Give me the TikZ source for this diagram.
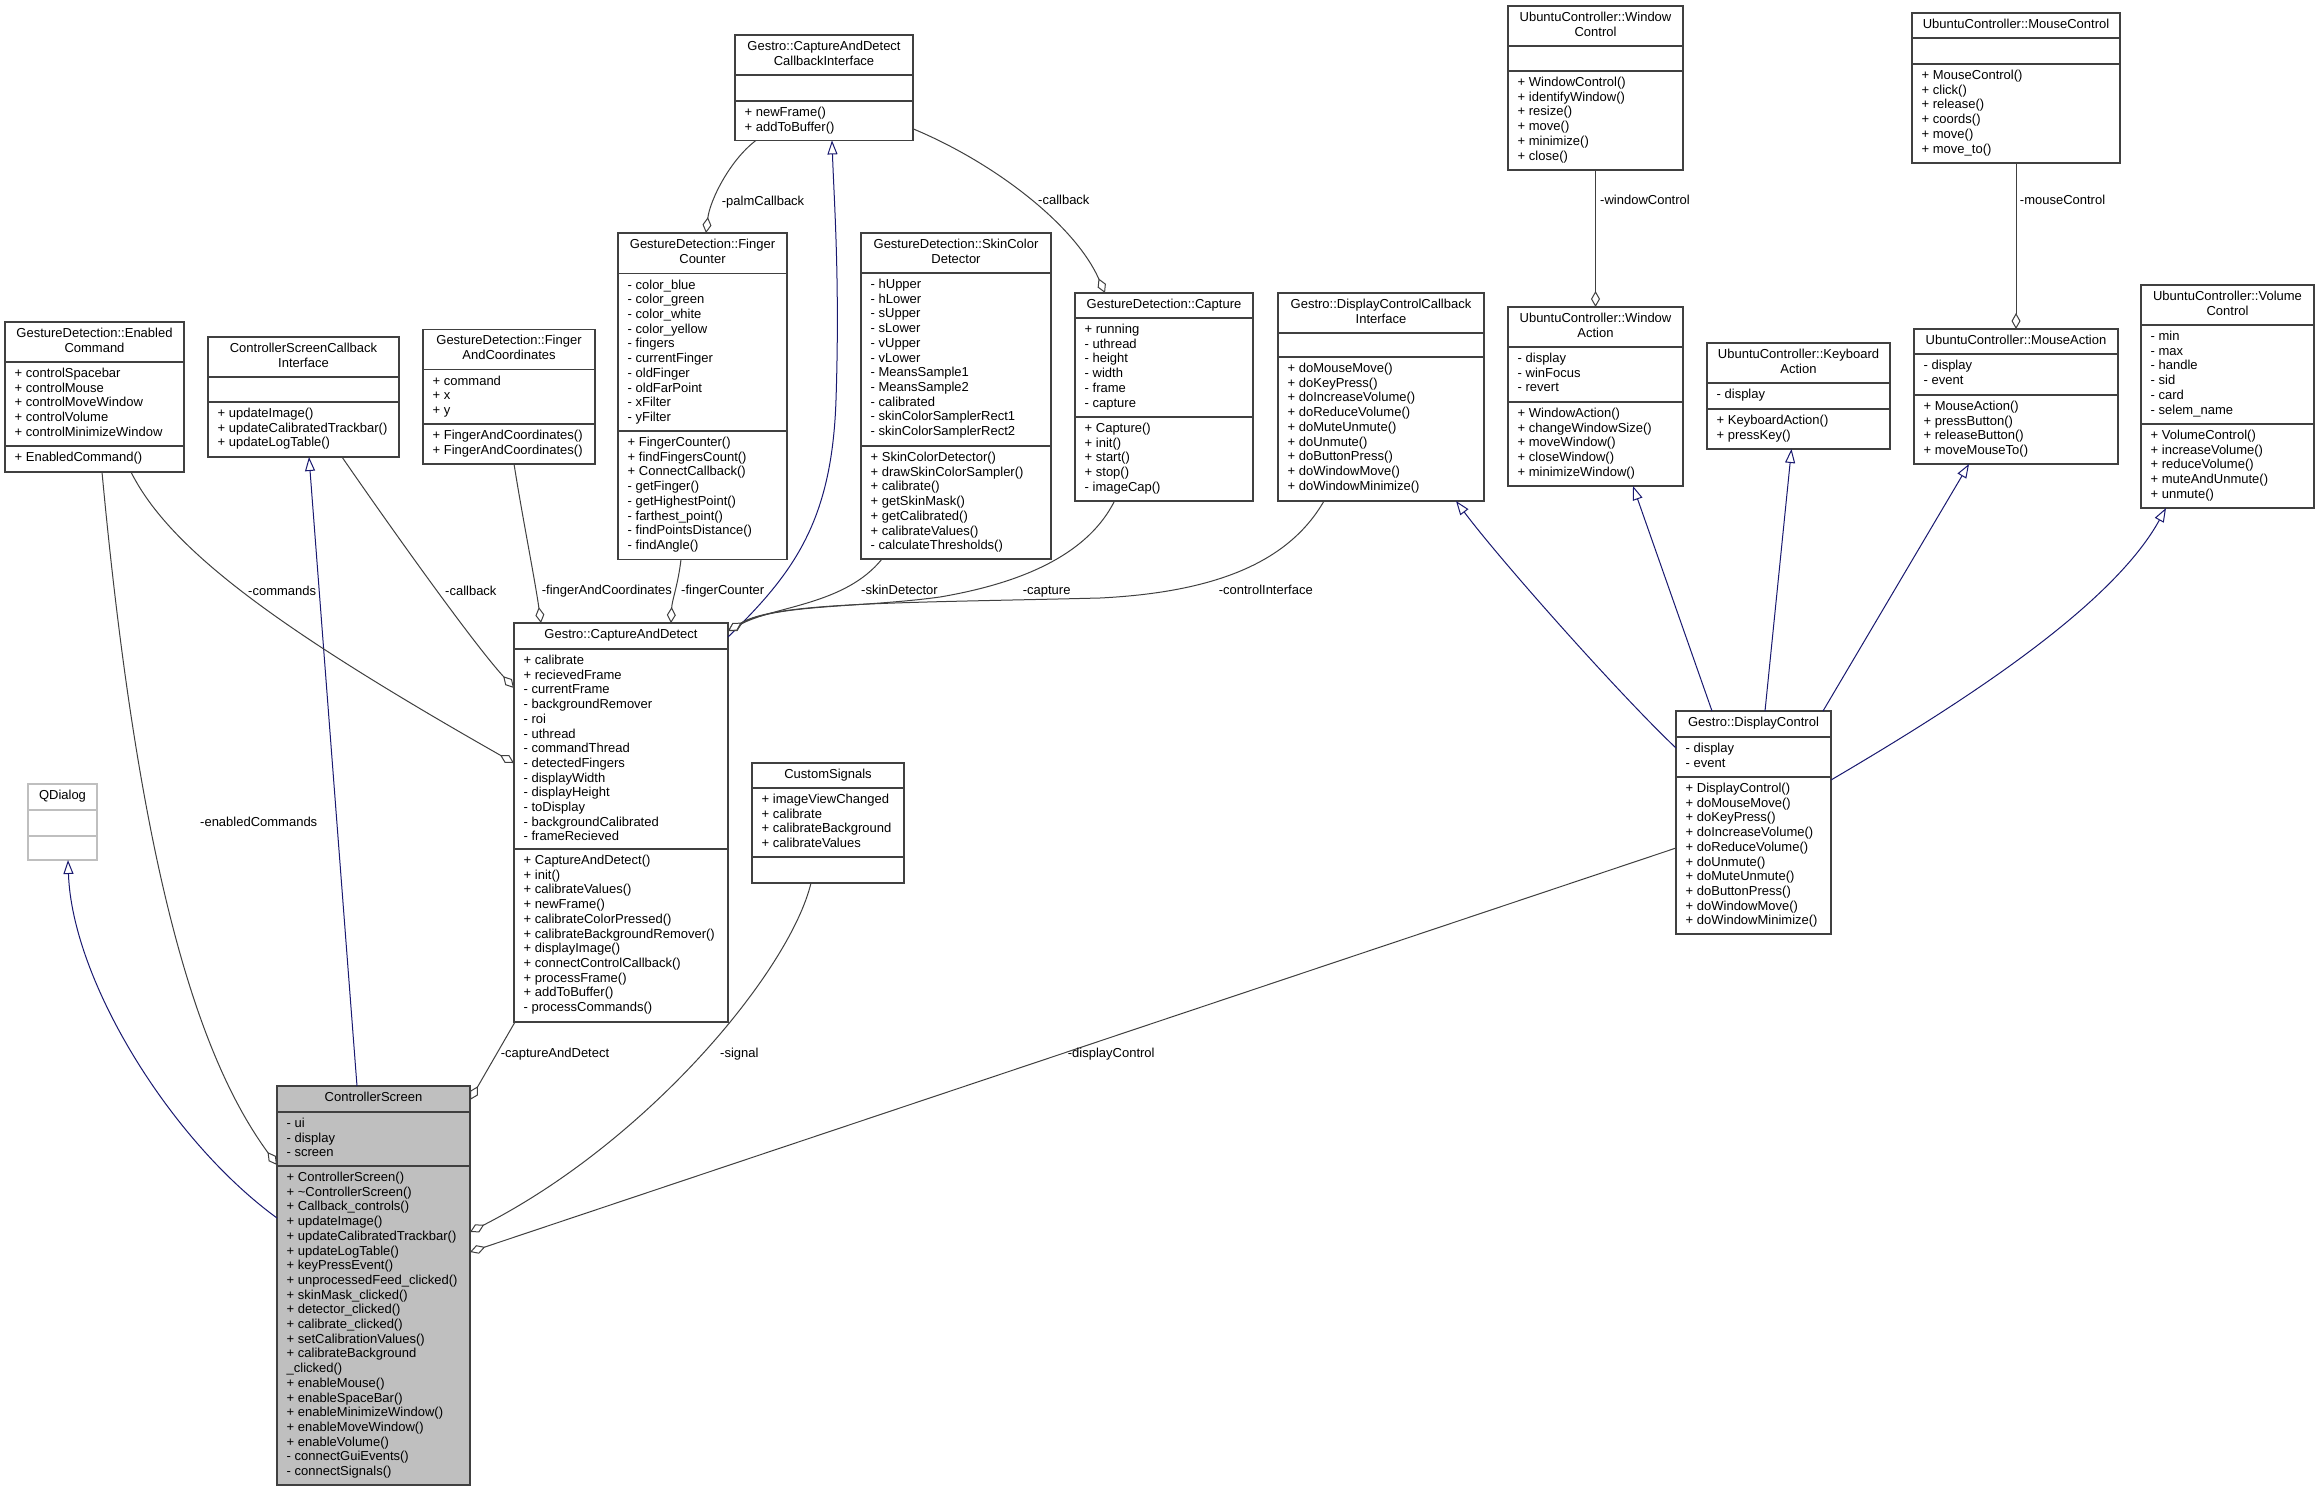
\documentclass[tikz,border=0pt]{standalone}
\usepackage{fontspec}
\setmainfont{Liberation Sans}
\usetikzlibrary{arrows.meta,calc}
\definecolor{boxgrey}{HTML}{404040}
\definecolor{edgegrey}{HTML}{404040}
\definecolor{navyline}{HTML}{191970}
\definecolor{csgrey}{HTML}{BFBFBF}
\definecolor{qdgrey}{HTML}{BFBFBF}
\newcommand\fs{\fontsize{13pt}{14.7pt}\selectfont}
\newcommand\ls{\rule[-3.9pt]{0pt}{14.7pt}}
\tikzset{
 box/.style={draw=boxgrey, line width=1.4pt, fill=white, inner sep=0pt, outer sep=0pt, anchor=north west},
 sepline/.style={draw=boxgrey, line width=1.4pt},
 ttl/.style={anchor=north, inner sep=0pt, align=center, font=\fs},
 sect/.style={anchor=north west, inner sep=0pt, align=left, font=\fs},
 lbl/.style={anchor=base west, inner sep=0pt, font=\fs},
 agg/.style={draw=edgegrey, line width=1pt, -{Diamond[length=16pt,width=9pt,fill=white,line width=1pt]}},
 inh/.style={draw=navyline, line width=1pt, -{Triangle[length=14pt,width=10pt,fill=white,line width=1pt]}},
}
% [style]{name}{x1}{x2}{y1}{s1}{s2}{y2}{title}
\newcommand\umlbox[9][]{%
  \node[box,#1,minimum width={#4-#3},minimum height={#8-#5}] (#2) at (#3,#5) {};
  \draw[sepline,#1] (#3,#6) -- (#4,#6);
  \draw[sepline,#1] (#3,#7) -- (#4,#7);
  \node[ttl] (#2-t) at ({(#3+#4)/2},{#5+4.5}) {\ls #9};
}
% {name}{x1}{sepY}{content}
\newcommand\umlsec[4]{%
  \node[sect] (#1) at ({#2+9.5},{#3+4.5}) {\ls #4};
}
\begin{document}
\begin{tikzpicture}[x=1pt,y=-1pt]
\fill[white] (0,0) rectangle (2319,1491);
\useasboundingbox (0,0) rectangle (2319,1491);

% ---------- boxes ----------
\umlbox[draw=qdgrey]{QD}{28}{97}{784}{810}{836}{860}{QDialog}

\umlbox{EC}{5}{184}{322}{362}{446}{472}{GestureDetection::Enabled\\Command}
\umlsec{EC-a}{5}{362}{+ controlSpacebar\\+ controlMouse\\+ controlMoveWindow\\+ controlVolume\\+ controlMinimizeWindow}
\umlsec{EC-m}{5}{446}{+ EnabledCommand()}

\umlbox{CSCI}{208}{399}{337}{377}{402}{457}{ControllerScreenCallback\\Interface}
\umlsec{CSCI-m}{208}{402}{+ updateImage()\\+ updateCalibratedTrackbar()\\+ updateLogTable()}

\umlbox{FAC}{423}{595}{329.4}{369.7}{423.9}{463.8}{GestureDetection::Finger\\AndCoordinates}
\umlsec{FAC-a}{423}{369.7}{+ command\\+ x\\+ y}
\umlsec{FAC-m}{423}{423.9}{+ FingerAndCoordinates()\\+ FingerAndCoordinates()}

\umlbox{CADCI}{735}{913}{34.8}{75.1}{100.8}{140.4}{Gestro::CaptureAndDetect\\CallbackInterface}
\umlsec{CADCI-m}{735}{100.8}{+ newFrame()\\+ addToBuffer()}

\umlbox{FC}{618}{787}{233}{273.6}{431}{559.5}{GestureDetection::Finger\\Counter}
\umlsec{FC-a}{618}{273.6}{- color\_blue\\- color\_green\\- color\_white\\- color\_yellow\\- fingers\\- currentFinger\\- oldFinger\\- oldFarPoint\\- xFilter\\- yFilter}
\umlsec{FC-m}{618}{431}{+ FingerCounter()\\+ findFingersCount()\\+ ConnectCallback()\\- getFinger()\\- getHighestPoint()\\- farthest\_point()\\- findPointsDistance()\\- findAngle()}

\umlbox{SCD}{861}{1051}{233}{273}{446}{559}{GestureDetection::SkinColor\\Detector}
\umlsec{SCD-a}{861}{273}{- hUpper\\- hLower\\- sUpper\\- sLower\\- vUpper\\- vLower\\- MeansSample1\\- MeansSample2\\- calibrated\\- skinColorSamplerRect1\\- skinColorSamplerRect2}
\umlsec{SCD-m}{861}{446}{+ SkinColorDetector()\\+ drawSkinColorSampler()\\+ calibrate()\\+ getSkinMask()\\+ getCalibrated()\\+ calibrateValues()\\- calculateThresholds()}

\umlbox{CAP}{1075}{1253}{293}{318}{417}{501}{GestureDetection::Capture}
\umlsec{CAP-a}{1075}{318}{+ running\\- uthread\\- height\\- width\\- frame\\- capture}
\umlsec{CAP-m}{1075}{417}{+ Capture()\\+ init()\\+ start()\\+ stop()\\- imageCap()}

\umlbox{DCCI}{1278}{1484}{293}{333}{357}{501}{Gestro::DisplayControlCallback\\Interface}
\umlsec{DCCI-m}{1278}{357}{+ doMouseMove()\\+ doKeyPress()\\+ doIncreaseVolume()\\+ doReduceVolume()\\+ doMuteUnmute()\\+ doUnmute()\\+ doButtonPress()\\+ doWindowMove()\\+ doWindowMinimize()}

\umlbox{WC}{1508}{1683}{6}{46}{71}{170}{UbuntuController::Window\\Control}
\umlsec{WC-m}{1508}{71}{+ WindowControl()\\+ identifyWindow()\\+ resize()\\+ move()\\+ minimize()\\+ close()}

\umlbox{WA}{1508}{1683}{307}{347}{402}{486}{UbuntuController::Window\\Action}
\umlsec{WA-a}{1508}{347}{- display\\- winFocus\\- revert}
\umlsec{WA-m}{1508}{402}{+ WindowAction()\\+ changeWindowSize()\\+ moveWindow()\\+ closeWindow()\\+ minimizeWindow()}

\umlbox{KA}{1707}{1890}{343}{383}{409}{449}{UbuntuController::Keyboard\\Action}
\umlsec{KA-a}{1707}{383}{- display}
\umlsec{KA-m}{1707}{409}{+ KeyboardAction()\\+ pressKey()}

\umlbox{MC}{1912}{2120}{13}{38}{64}{163}{UbuntuController::MouseControl}
\umlsec{MC-m}{1912}{64}{+ MouseControl()\\+ click()\\+ release()\\+ coords()\\+ move()\\+ move\_to()}

\umlbox{MA}{1914}{2118}{329}{354}{395}{464}{UbuntuController::MouseAction}
\umlsec{MA-a}{1914}{354}{- display\\- event}
\umlsec{MA-m}{1914}{395}{+ MouseAction()\\+ pressButton()\\+ releaseButton()\\+ moveMouseTo()}

\umlbox{VC}{2141}{2314}{285}{325}{424}{508}{UbuntuController::Volume\\Control}
\umlsec{VC-a}{2141}{325}{- min\\- max\\- handle\\- sid\\- card\\- selem\_name}
\umlsec{VC-m}{2141}{424}{+ VolumeControl()\\+ increaseVolume()\\+ reduceVolume()\\+ muteAndUnmute()\\+ unmute()}

\umlbox{DC}{1676}{1831}{711}{737}{777}{934}{Gestro::DisplayControl}
\umlsec{DC-a}{1676}{737}{- display\\- event}
\umlsec{DC-m}{1676}{777}{+ DisplayControl()\\+ doMouseMove()\\+ doKeyPress()\\+ doIncreaseVolume()\\+ doReduceVolume()\\+ doUnmute()\\+ doMuteUnmute()\\+ doButtonPress()\\+ doWindowMove()\\+ doWindowMinimize()}

\umlbox{CAD}{514}{728}{623}{649}{849}{1022}{Gestro::CaptureAndDetect}
\umlsec{CAD-a}{514}{649}{+ calibrate\\+ recievedFrame\\- currentFrame\\- backgroundRemover\\- roi\\- uthread\\- commandThread\\- detectedFingers\\- displayWidth\\- displayHeight\\- toDisplay\\- backgroundCalibrated\\- frameRecieved}
\umlsec{CAD-m}{514}{849}{+ CaptureAndDetect()\\+ init()\\+ calibrateValues()\\+ newFrame()\\+ calibrateColorPressed()\\+ calibrateBackgroundRemover()\\+ displayImage()\\+ connectControlCallback()\\+ processFrame()\\+ addToBuffer()\\- processCommands()}

\umlbox{CUS}{752}{904}{763}{788}{857}{883}{CustomSignals}
\umlsec{CUS-a}{752}{788}{+ imageViewChanged\\+ calibrate\\+ calibrateBackground\\+ calibrateValues}

\umlbox[fill=csgrey]{CS}{277}{470}{1086}{1112}{1166}{1485}{ControllerScreen}
\umlsec{CS-a}{277}{1112}{- ui\\- display\\- screen}
\umlsec{CS-m}{277}{1166}{+ ControllerScreen()\\+ \textasciitilde ControllerScreen()\\+ Callback\_controls()\\+ updateImage()\\+ updateCalibratedTrackbar()\\+ updateLogTable()\\+ keyPressEvent()\\+ unprocessedFeed\_clicked()\\+ skinMask\_clicked()\\+ detector\_clicked()\\+ calibrate\_clicked()\\+ setCalibrationValues()\\+ calibrateBackground\\\_clicked()\\+ enableMouse()\\+ enableSpaceBar()\\+ enableMinimizeWindow()\\+ enableMoveWindow()\\+ enableVolume()\\- connectGuiEvents()\\- connectSignals()}

% ---------- connectors ----------
\draw[inh] ($(CS.north west)+(0,132)$) .. controls (170,1140) and (72,980) .. ($(QD.south west)+(40,0)$);
\draw[agg] ($(EC.south west)+(97,0)$) .. controls (140,880) and (200,1060) .. ($(CS.north west)+(0,79)$);
\draw[inh] ($(CS.north west)+(80,0)$) -- ($(CSCI.south west)+(101,0)$);
\draw[agg] ($(CAD.south west)+(1,0)$) -- ($(CS.north east)+(0,14)$);
\draw[agg] ($(CUS.south west)+(59,0)$) .. controls (790,970) and (650,1140) .. ($(CS.north east)+(0,146)$);
\draw[agg] ($(DC.north west)+(0,137)$) -- ($(CS.north east)+(0,166)$);
\draw[agg] ($(EC.south west)+(126,0)$) .. controls (170,550) and (280,630) .. ($(CAD.north west)+(0,140)$);
\draw[agg] ($(CSCI.south west)+(134,0)$) .. controls (375,505) and (470,640) .. ($(CAD.north west)+(0,65)$);
\draw[agg] ($(FAC.south west)+(91,0)$) .. controls (522,515) and (535,580) .. ($(CAD.north west)+(27,0)$);
\draw[agg] ($(FC.south west)+(63,0)$) .. controls (678,585) and (672,600) .. ($(CAD.north west)+(157,0)$);
\draw[inh] ($(CAD.north east)+(0,14)$) .. controls (795,572) and (832,520) .. (836,400) .. controls (840,280) and (834,200) .. ($(CADCI.south west)+(97,0)$);
\draw[agg] ($(CADCI.south west)+(21,0)$) .. controls (730,160) and (710,200) .. ($(FC.north west)+(88,0)$);
\draw[agg] ($(CADCI.north east)+(0,94)$) .. controls (995,163) and (1075,225) .. ($(CAP.north west)+(30,0)$);
\draw[agg] ($(SCD.south west)+(21,0)$) .. controls (845,605) and (775,606) .. ($(CAD.north east)+(0,8)$);
\draw[agg] ($(CAP.south west)+(39.5,0)$) .. controls (1085,560) and (1010,585) .. (940,597) .. controls (860,608) and (775,604) .. ($(CAD.north east)+(0,8)$);
\draw[agg] ($(DCCI.south west)+(46,0)$) .. controls (1290,560) and (1220,592) .. (1100,598) .. controls (900,603) and (775,602) .. ($(CAD.north east)+(0,8)$);
\draw[inh] ($(DC.north west)+(0,37)$) .. controls (1620,695) and (1500,560) .. ($(DCCI.south west)+(178,0)$);
\draw[inh] ($(DC.north west)+(36,0)$) -- ($(WA.south west)+(125,0)$);
\draw[inh] ($(DC.north west)+(89,0)$) -- ($(KA.south west)+(84.5,0)$);
\draw[inh] ($(DC.north west)+(147,0)$) -- ($(MA.south west)+(55,0)$);
\draw[inh] ($(DC.north east)+(0,69)$) .. controls (1950,710) and (2110,610) .. ($(VC.south west)+(25,0)$);
\draw[agg] (WC.south) -- (WA.north);
\draw[agg] (MC.south) -- (MA.north);

% ---------- connector labels ----------
\node[lbl] (L-ec) at (200,826.5) {-enabledCommands};
\node[lbl] (L-cmd) at (248,595.5) {-commands};
\node[lbl] (L-cb1) at (445,595.5) {-callback};
\node[lbl] (L-fac) at (541.7,594.5) {-fingerAndCoordinates};
\node[lbl] (L-fc) at (681,594.5) {-fingerCounter};
\node[lbl] (L-sd) at (861,594.5) {-skinDetector};
\node[lbl] (L-cap) at (1022.6,594.5) {-capture};
\node[lbl] (L-ci) at (1218.6,594.5) {-controlInterface};
\node[lbl] (L-palm) at (721.7,205) {-palmCallback};
\node[lbl] (L-cb2) at (1038,204.5) {-callback};
\node[lbl] (L-wc) at (1600,204.5) {-windowControl};
\node[lbl] (L-mc) at (2019.7,204.5) {-mouseControl};
\node[lbl] (L-cad) at (500.6,1057) {-captureAndDetect};
\node[lbl] (L-sig) at (720,1057) {-signal};
\node[lbl] (L-dc) at (1067.7,1057) {-displayControl};
\end{tikzpicture}
\end{document}
